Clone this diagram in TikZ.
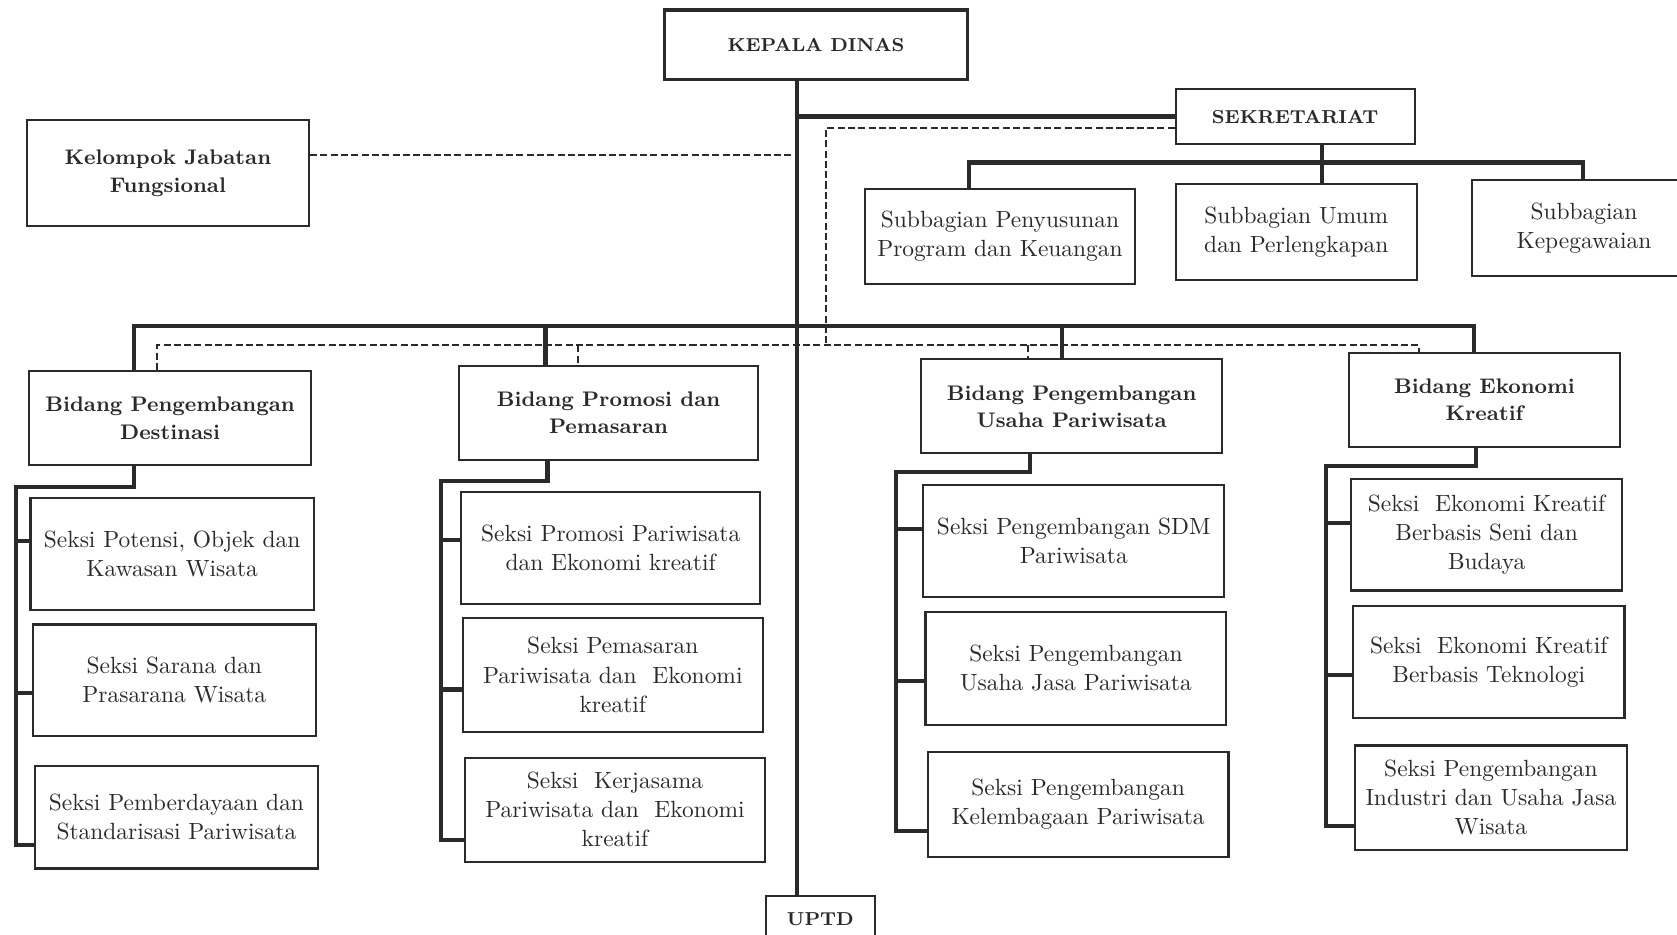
\documentclass[tikz,border=0pt]{standalone}
\definecolor{ink}{HTML}{2A2A2A}

\begin{document}
\begin{tikzpicture}[x=0.01604cm, y=-0.01604cm, color=ink,
seksi/.style={draw, line width=0.9pt, align=center, inner sep=2pt,
  font=\fontsize{10}{12.4}\selectfont},
bidang/.style={seksi, minimum height=1.41cm,
  font=\fontsize{9}{11.6}\selectfont\bfseries},
chief/.style={seksi, font=\fontsize{8}{10}\selectfont\bfseries},
bus/.style={line width=1.8pt},
staffline/.style={line width=0.85pt, dash pattern=on 3pt off 1.4pt}]

\path[fill=white, use as bounding box] (0,0) rectangle (1568,874);

% pimpinan dan sekretariat
\node[chief, line width=1.5pt, minimum width=4.54cm, minimum height=1.04cm] (kd) at (763,42) {KEPALA DINAS};
\node[chief, minimum width=3.58cm, minimum height=0.83cm] (sek) at (1211,109) {SEKRETARIAT};
\node[bidang, minimum width=4.23cm, minimum height=1.59cm] (kjf) at (157,162) {Kelompok Jabatan\\Fungsional};
\node[chief, minimum width=1.64cm, minimum height=0.67cm] (uptd) at (767,859) {UPTD};

\node[seksi, minimum width=4.04cm, minimum height=1.43cm] (sub1) at (935,221) {Subbagian Penyusunan\\Program dan Keuangan};
\node[seksi, minimum width=3.61cm, minimum height=1.44cm] (sub2) at (1212,217) {Subbagian Umum\\dan Perlengkapan};
\node[seksi, minimum width=3.37cm, minimum height=1.44cm] (sub3) at (1481,213) {Subbagian\\Kepegawaian};

% bidang
\node[bidang, minimum width=4.23cm] (b1) at (159,391) {Bidang Pengembangan\\Destinasi};
\node[bidang, minimum width=4.48cm] (b2) at (569,386) {Bidang Promosi dan\\Pemasaran};
\node[bidang, minimum width=4.51cm] (b3) at (1002,380) {Bidang Pengembangan\\Usaha Pariwisata};
\node[bidang, minimum width=4.07cm] (b4) at (1388,374) {Bidang Ekonomi\\Kreatif};

% seksi
\node[seksi, minimum width=4.25cm, minimum height=1.67cm] (s11) at (161,518) {Seksi Potensi, Objek dan\\Kawasan Wisata};
\node[seksi, minimum width=4.25cm, minimum height=1.67cm] (s12) at (163,636) {Seksi Sarana dan\\Prasarana Wisata};
\node[seksi, minimum width=4.25cm, minimum height=1.54cm] (s13) at (165,764) {Seksi Pemberdayaan dan\\Standarisasi Pariwisata};

\node[seksi, minimum width=4.49cm, minimum height=1.68cm] (s21) at (571,512) {Seksi Promosi Pariwisata\\dan Ekonomi kreatif};
\node[seksi, minimum width=4.49cm, minimum height=1.70cm] (s22) at (573,631) {Seksi Pemasaran\\Pariwisata dan~ Ekonomi\\kreatif};
\node[seksi, minimum width=4.49cm, minimum height=1.56cm] (s23) at (575,757) {Seksi~ Kerjasama\\Pariwisata dan~ Ekonomi\\kreatif};

\node[seksi, minimum width=4.51cm, minimum height=1.68cm] (s31) at (1004,506) {Seksi Pengembangan SDM\\Pariwisata};
\node[seksi, minimum width=4.51cm, minimum height=1.70cm] (s32) at (1006,625) {Seksi Pengembangan\\Usaha Jasa Pariwisata};
\node[seksi, minimum width=4.51cm, minimum height=1.57cm] (s33) at (1008,752) {Seksi Pengembangan\\Kelembagaan Pariwisata};

\node[seksi, minimum width=4.07cm, minimum height=1.67cm] (s41) at (1390,500) {Seksi~ Ekonomi Kreatif\\Berbasis Seni dan\\Budaya};
\node[seksi, minimum width=4.07cm, minimum height=1.68cm] (s42) at (1392,619) {Seksi~ Ekonomi Kreatif\\Berbasis Teknologi};
\node[seksi, minimum width=4.07cm, minimum height=1.57cm] (s43) at (1394,746) {Seksi Pengembangan\\Industri dan Usaha Jasa\\Wisata};

% titik sambung
\coordinate (t) at (745,0);
\coordinate (kx) at (745,145);
\coordinate (s0) at (772,120);
\coordinate (e0) at (772,323);
\coordinate (sa) at (906,152);
\coordinate (sb) at (1236,152);
\coordinate (sc) at (1480,152);
\coordinate (d1) at (125,305);
\coordinate (d2) at (510,305);
\coordinate (d3) at (993,305);
\coordinate (d4) at (1378,305);
\coordinate (e1) at (147,323);
\coordinate (e2) at (540,323);
\coordinate (e3) at (961,323);
\coordinate (e4) at (1327,323);
\coordinate (j1) at (125,455);
\coordinate (k1) at (15,455);
\coordinate (j2) at (512,450);
\coordinate (k2) at (412,450);
\coordinate (j3) at (963,441);
\coordinate (k3) at (838,441);
\coordinate (j4) at (1380,436);
\coordinate (k4) at (1240,436);

% garis komando
\draw[bus] (t |- kd.south) -- (t |- uptd.north);
\draw[bus] (sek.west) -- (t |- sek.west);
\draw[bus] (sb |- sek.south) -- (sb |- sub2.north);
\draw[bus] (sa |- sub1.north) -- (sa) -- (sc) -- (sc |- sub3.north);
\draw[bus] (d1 |- b1.north) -- (d1) -- (d4) -- (d4 |- b4.north);
\draw[bus] (d2) -- (d2 |- b2.north);
\draw[bus] (d3) -- (d3 |- b3.north);

\draw[bus] (j1 |- b1.south) -- (j1) -- (k1) |- ([yshift=-0.42cm]s13.west);
\draw[bus] ([yshift=0.2cm]s11.west) -| (k1);
\draw[bus] ([yshift=-0.19cm]s12.west) -| (k1);

\draw[bus] (j2 |- b2.south) -- (j2) -- (k2) |- ([yshift=-0.45cm]s23.west);
\draw[bus] ([yshift=0.11cm]s21.west) -| (k2);
\draw[bus] ([yshift=-0.22cm]s22.west) -| (k2);

\draw[bus] (j3 |- b3.south) -- (j3) -- (k3) |- ([yshift=-0.4cm]s33.west);
\draw[bus] ([yshift=0.18cm]s31.west) -| (k3);
\draw[bus] ([yshift=-0.19cm]s32.west) -| (k3);

\draw[bus] (j4 |- b4.south) -- (j4) -- (k4) |- ([yshift=-0.42cm]s43.west);
\draw[bus] ([yshift=0.18cm]s41.west) -| (k4);
\draw[bus] ([yshift=-0.19cm]s42.west) -| (k4);

% garis koordinasi
\draw[staffline] (kjf.east |- kx) -- (kx);
\draw[staffline] (sek.west |- s0) -- (s0) -- (e0);
\draw[staffline] (e1 |- b1.north) -- (e1) -- (e4) -- (e4 |- b4.north);
\draw[staffline] (e2) -- (e2 |- b2.north);
\draw[staffline] (e3) -- (e3 |- b3.north);
\end{tikzpicture}
\end{document}
